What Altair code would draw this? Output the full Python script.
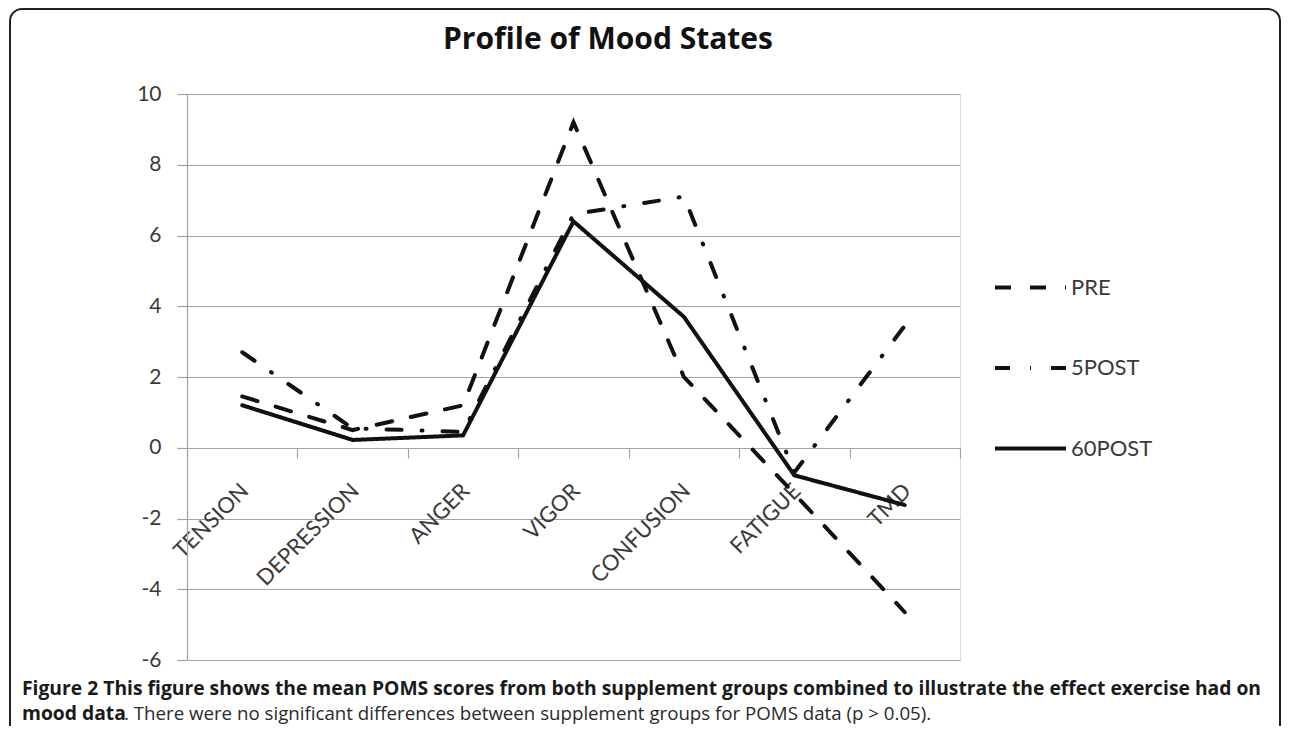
import altair as alt
import pandas as pd

categories = ["TENSION", "DEPRESSION", "ANGER", "VIGOR", "CONFUSION", "FATIGUE", "TMD"]
series_names = ["PRE", "5POST", "60POST"]
pre = [1.45, 0.5, 1.2, 9.2, 2.0, -1.3, -4.65]
post5 = [2.7, 0.55, 0.45, 6.6, 7.1, -0.7, 3.45]
post60 = [1.2, 0.22, 0.35, 6.4, 3.7, -0.78, -1.62]
y_ticks = [-6, -4, -2, 0, 2, 4, 6, 8, 10]

rows = []
for name, vals in zip(series_names, [pre, post5, post60]):
    for c, v in zip(categories, vals):
        rows.append({"category": c, "series": name, "value": v})
df = pd.DataFrame(rows)

W, H = 773, 566
GRID = "#a3a3a3"
TXT = "#3a3a3a"

x_enc = alt.X(
    "category:N",
    sort=categories,
    scale=alt.Scale(type="point", padding=0.5),
    axis=alt.Axis(
        title=None,
        offset=-212,
        labelAngle=-45,
        labelAlign="right",
        labelBaseline="middle",
        labelPadding=29,
        labelOffset=-53,
        labelFont="Lato",
        labelFontSize=22,
        labelColor=TXT,
        labelOverlap=False,
        labelFlush=False,
        labelBound=False,
        tickSize=10,
        tickOffset=55.2,
        tickColor=GRID,
        tickWidth=1.2,
        domainColor=GRID,
        domainWidth=1.2,
        grid=False,
    ),
)
y_enc = alt.Y(
    "value:Q",
    scale=alt.Scale(domain=[-6, 10], nice=False, zero=False),
    axis=alt.Axis(
        title=None,
        values=y_ticks,
        labelExpr="'' + datum.value",
        grid=True,
        gridColor=GRID,
        gridWidth=1.2,
        domainColor=GRID,
        domainWidth=1.2,
        tickColor=GRID,
        tickWidth=1.2,
        tickSize=10,
        labelPadding=16,
        labelFont="Lato",
        labelFontSize=21,
        labelColor=TXT,
    ),
)

lines = alt.Chart(df).mark_line(strokeWidth=4, color="#111111", strokeCap="round").encode(
    x=x_enc,
    y=y_enc,
    strokeDash=alt.StrokeDash(
        "series:N",
        scale=alt.Scale(domain=series_names, range=[[16, 19], [15, 20, 1, 20], [1, 0]]),
        legend=alt.Legend(
            title=None,
            orient="none",
            legendX=806,
            legendY=156,
            symbolType="stroke",
            symbolSize=5041,
            symbolStrokeWidth=4,
            symbolStrokeColor="#111111",
            labelFont="Lato",
            labelFontSize=22,
            labelColor=TXT,
            labelOffset=3,
            rowPadding=31.5,
        ),
    ),
    detail="series:N",
)

one = pd.DataFrame({"k": [0]})

title = alt.Chart(one).mark_text(
    align="left", baseline="alphabetic", font="Open Sans", fontSize=30, fontWeight="bold", color="#111111"
).encode(x=alt.value(256), y=alt.value(-45), text=alt.value("Profile of Mood States"))

cap1 = alt.Chart(one).mark_text(
    align="left", baseline="alphabetic", font="Open Sans", fontSize=19.3, fontWeight="bold", color="#1a1a1a"
).encode(
    x=alt.value(-165),
    y=alt.value(601),
    text=alt.value("Figure 2 This figure shows the mean POMS scores from both supplement groups combined to illustrate the effect exercise had on"),
)
cap2a = alt.Chart(one).mark_text(
    align="left", baseline="alphabetic", font="Open Sans", fontSize=19.3, fontWeight="bold", color="#1a1a1a"
).encode(x=alt.value(-165), y=alt.value(626), text=alt.value("mood data"))
cap2b = alt.Chart(one).mark_text(
    align="left", baseline="alphabetic", font="Open Sans", fontSize=18.7, fontWeight="normal", color="#2a2a2a"
).encode(
    x=alt.value(-63),
    y=alt.value(626),
    text=alt.value(". There were no significant differences between supplement groups for POMS data (p > 0.05)."),
)

border = alt.Chart(one).mark_rect(
    fill=None, stroke="#222222", strokeWidth=2, cornerRadius=12
).encode(x=alt.value(-177), x2=alt.value(1093), y=alt.value(-85), y2=alt.value(700))

chart = (
    alt.layer(border, lines, title, cap1, cap2a, cap2b)
    .properties(
        width=W,
        height=H,
        autosize=alt.AutoSizeParams(type="none"),
        padding={"left": 179, "top": 86, "right": 322, "bottom": 66},
    )
    .configure_view(stroke=None)
    .configure(background="white")
)

chart.save("out.html", embed_options={"renderer": "svg", "actions": False})
